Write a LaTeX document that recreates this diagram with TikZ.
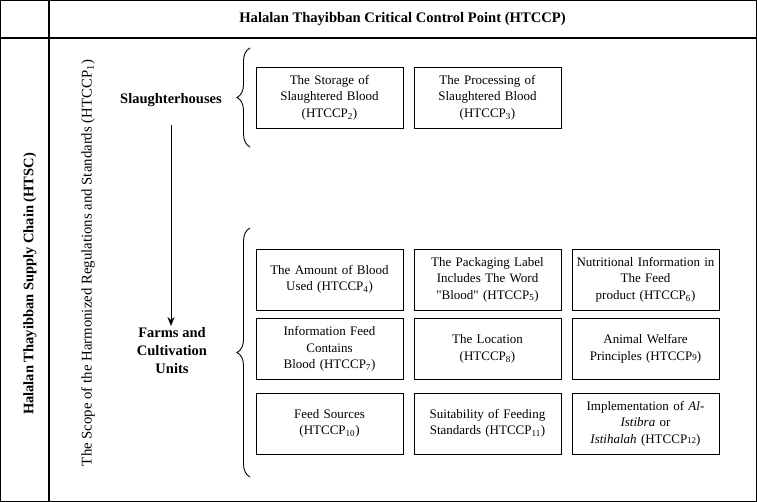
\documentclass[tikz,border=0pt]{standalone}
\usepackage{fontspec}
\setmainfont{Liberation Serif}
\newcommand{\dq}{{\addfontfeature{Ligatures=TeXOff}\symbol{34}}}
\usetikzlibrary{decorations.pathreplacing,arrows.meta}
\begin{document}
\begin{tikzpicture}[x=1pt,y=-1pt,
  cell/.style={draw,line width=0.9pt,minimum width=147pt,minimum height=61pt,text width=145pt,align=center,inner sep=0pt,font=\fontsize{13}{16.5}\selectfont},
  grp/.style={align=center,font=\fontsize{14.5}{18}\selectfont\bfseries},
  brc/.style={decorate,decoration={brace,amplitude=13pt},line width=0.9pt},
  frame/.style={line width=1.2pt}]
\useasboundingbox (0,0) rectangle (757,502);
% frame
\draw[frame] (0.6,0.6) rectangle (756.2,501.4);
\coordinate (hl) at (0.6,38);
\coordinate (hr) at (756.2,38);
\coordinate (vt) at (49,0.6);
\coordinate (vb) at (49,501.4);
\draw[frame] (hl) -- (hr);
\draw[frame] (vt) -- (vb);
% header
\node[font=\fontsize{14.6}{17}\selectfont\bfseries] (head) at (402.5,19) {Halalan Thayibban Critical Control Point (HTCCP)};
\node[rotate=90,font=\fontsize{14.5}{17}\selectfont\bfseries] (htsc) at (30,284) {Halalan Thayibban Supply Chain (HTSC)};
\node[rotate=90,font=\fontsize{14.8}{17}\selectfont] (scope) at (88,263) {The Scope of the Harmonized Regulations and Standards (HTCCP\textsubscript{1})};
% groups
\node[grp] (sl) at (171,100) {Slaughterhouses};
\node[grp] (fa) at (172,351) {Farms and\\Cultivation\\Units};
\coordinate (atop) at (171,125);
\coordinate (abot) at (171,326);
\draw[line width=0.9pt,-{Stealth[length=9pt,width=7pt]}] (atop) -- (abot);
% braces
\coordinate (b1s) at (250,147);
\coordinate (b1e) at (250,48);
\coordinate (b2s) at (250,477);
\coordinate (b2e) at (250,228);
\draw[brc] (b1s) -- (b1e);
\draw[brc] (b2s) -- (b2e);
% boxes
\node[cell] (h2) at (329.5,97.5) {The Storage of\\Slaughtered Blood\\(HTCCP\textsubscript{2})};
\node[cell] (h3) at (487.5,97.5) {The Processing of\\Slaughtered Blood\\(HTCCP\textsubscript{3})};
\node[cell] (h4) at (329.5,279.5) {The Amount of Blood\\Used (HTCCP\textsubscript{4})};
\node[cell] (h5) at (487.5,279.5) {The Packaging Label\\Includes The Word\\\dq Blood\dq{} (HTCCP\textsubscript{5})};
\node[cell] (h6) at (645.5,279.5) {Nutritional Information in\\The Feed\\product (HTCCP\textsubscript{6})};
\node[cell] (h7) at (329.5,349) {Information Feed\\Contains\\Blood (HTCCP\textsubscript{7})};
\node[cell] (h8) at (487.5,349) {The Location\\(HTCCP\textsubscript{8})};
\node[cell] (h9) at (645.5,349) {Animal Welfare\\Principles (HTCCP{\fontsize{9}{9}\selectfont 9})};
\node[cell] (h10) at (329.5,423.5) {Feed Sources\\(HTCCP\textsubscript{10})};
\node[cell] (h11) at (487.5,423.5) {Suitability of Feeding\\Standards (HTCCP\textsubscript{11})};
\node[cell] (h12) at (645.5,423.5) {Implementation of \textit{Al-}\\\textit{Istibra} or\\\textit{Istihalah} (HTCCP{\fontsize{9}{9}\selectfont 12})};
\end{tikzpicture}
\end{document}
